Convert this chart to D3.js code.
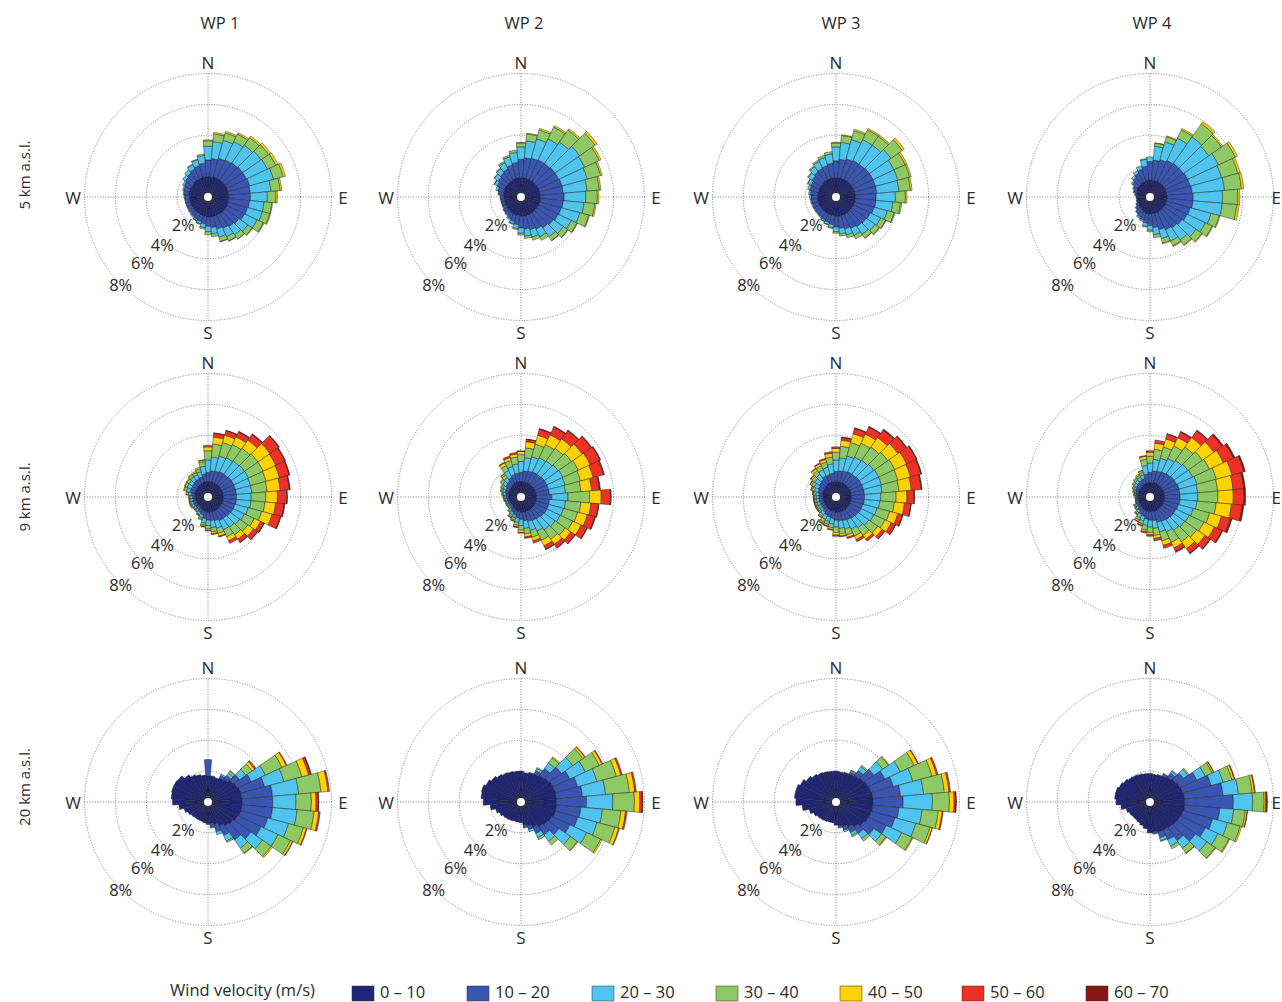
<!DOCTYPE html>
<html>
<head>
<meta charset="utf-8">
<script src="https://cdn.jsdelivr.net/npm/d3@7"></script>
<style>
  body { margin: 0; background: #fff; }
  svg { display: block; }
  text { font-family: "Open Sans", "Noto Sans", sans-serif; fill: #2b2b2b; }
</style>
</head>
<body>
<svg id="chart" width="1282" height="1002"></svg>
<script>
// Wind speed classes (m/s) and their colours
const speedClasses = ["0 – 10", "10 – 20", "20 – 30", "30 – 40", "40 – 50", "50 – 60", "60 – 70"];
const classColors = ["#1f2677", "#3a56b2", "#4ec4ee", "#8dc865", "#ffd200", "#ee3124", "#8a1515"];

const stations = ["WP 1", "WP 2", "WP 3", "WP 4"];
const levels = ["5 km a.s.l.", "9 km a.s.l.", "20 km a.s.l."];

// Direction bins (degrees clockwise from north), 10° wide
const directions = [0, 10, 20, 30, 40, 50, 60, 70, 80, 90, 100, 110, 120, 130, 140, 150, 160, 170,
                    180, 190, 200, 210, 220, 230, 240, 250, 260, 270, 280, 290, 300, 310, 320, 330, 340, 350];
const ringTicks = [2, 4, 6, 8];
const compass = [["N", 0], ["E", 90], ["S", 180], ["W", 270]];

// Frequency (%) per direction bin; each row lists the speed classes 0–10 … 60–70 m/s
const wp1_5km = [
  [1.3,1.1,0.9,0.35,0.05],[1.3,1.2,1.1,0.5,0.1],[1.35,1.25,1.2,0.5,0.1],[1.35,1.3,1.3,0.55,0.1],
  [1.35,1.35,1.4,0.6,0.12],[1.35,1.4,1.45,0.6,0.15],[1.35,1.4,1.5,0.6,0.15],[1.35,1.45,1.6,0.65,0.15],
  [1.35,1.4,1.35,0.6,0.1],[1.35,1.4,1.1,0.55,0.1],[1.35,1.35,0.95,0.5,0.05],[1.35,1.3,1.0,0.5,0.05],
  [1.35,1.25,0.9,0.45,0.05],[1.35,1.1,0.7,0.35,0.03],[1.35,1.0,0.65,0.33,0.02],[1.3,0.95,0.6,0.3,0.02],
  [1.3,0.85,0.55,0.3,0.02],[1.3,0.7,0.4,0.2],[1.3,0.6,0.35,0.2],[1.25,0.5,0.25,0.1],
  [1.25,0.4,0.15,0.05],[1.2,0.4,0.1,0.02],[1.2,0.35,0.08],[1.2,0.3,0.05],
  [1.2,0.28,0.03],[1.2,0.27,0.03],[1.2,0.28,0.03],[1.2,0.3,0.05],
  [1.25,0.32,0.05],[1.25,0.38,0.08],[1.25,0.45,0.12],[1.25,0.55,0.2],
  [1.3,0.6,0.25],[1.3,0.7,0.3,0.05],[1.3,0.8,0.4,0.05],[1.3,0.9,0.5,0.1]
];
const wp2_5km = [
  [1.25,1.2,0.8,0.25,0.03],[1.25,1.3,1.1,0.45,0.05],[1.25,1.35,1.3,0.6,0.1],[1.25,1.4,1.5,0.85,0.1],
  [1.25,1.4,1.7,0.95,0.1],[1.25,1.45,1.95,1.2,0.15],[1.25,1.45,1.85,1.05,0.12],[1.25,1.5,1.7,0.9,0.1],
  [1.25,1.5,1.55,0.8,0.1],[1.25,1.55,1.4,0.75,0.1],[1.25,1.5,1.35,0.7,0.08],[1.25,1.45,1.25,0.6,0.05],
  [1.25,1.4,0.95,0.4,0.03],[1.25,1.3,0.8,0.35,0.03],[1.25,1.2,0.7,0.3,0.02],[1.25,1.05,0.55,0.25],
  [1.25,0.95,0.5,0.2],[1.25,0.85,0.45,0.15],[1.25,0.75,0.35,0.12],[1.2,0.6,0.25,0.08],
  [1.2,0.45,0.15,0.05],[1.2,0.35,0.1],[1.15,0.3,0.05],[1.15,0.25,0.03],
  [1.1,0.22,0.03],[1.1,0.2,0.03],[1.1,0.2,0.03],[1.1,0.22,0.03],
  [1.15,0.3,0.05],[1.15,0.4,0.15],[1.2,0.5,0.2,0.02],[1.2,0.6,0.3,0.03],
  [1.2,0.7,0.35,0.05],[1.2,0.8,0.45,0.1],[1.25,0.9,0.55,0.1],[1.25,1.0,0.65,0.15]
];
const wp3_5km = [
  [1.25,1.1,0.9,0.25,0.03],[1.25,1.2,1.1,0.45,0.05],[1.25,1.3,1.3,0.6,0.1],[1.25,1.35,1.5,0.7,0.1],
  [1.25,1.35,1.5,0.7,0.1],[1.25,1.4,1.7,0.9,0.15],[1.25,1.4,1.5,0.8,0.12],[1.25,1.4,1.5,0.8,0.1],
  [1.25,1.4,1.45,0.75,0.1],[1.25,1.35,1.25,0.65,0.1],[1.25,1.35,1.1,0.5,0.07],[1.25,1.3,0.9,0.45,0.05],
  [1.25,1.2,0.75,0.35,0.03],[1.25,1.15,0.7,0.33,0.03],[1.25,1.1,0.6,0.3,0.02],[1.25,1.0,0.5,0.25],
  [1.25,0.9,0.4,0.2],[1.25,0.8,0.35,0.15],[1.25,0.7,0.3,0.1],[1.2,0.6,0.2,0.05],
  [1.2,0.5,0.15,0.03],[1.2,0.45,0.1,0.02],[1.2,0.4,0.07],[1.2,0.38,0.05],
  [1.2,0.38,0.05],[1.2,0.38,0.06],[1.2,0.4,0.07],[1.2,0.42,0.08],
  [1.2,0.48,0.1],[1.2,0.55,0.15],[1.2,0.6,0.22,0.03],[1.2,0.7,0.3,0.05],
  [1.25,0.75,0.4,0.07],[1.25,0.8,0.5,0.1],[1.25,0.85,0.55,0.15],[1.25,0.95,0.6,0.15]
];
const wp4_5km = [
  [1.1,1.2,0.3],[1.1,1.3,0.9,0.2,0.02],[1.1,1.4,1.2,0.35,0.05],[1.1,1.5,1.6,0.6,0.1],
  [1.1,1.55,2.1,1.05,0.15],[1.1,1.55,2.0,1.0,0.1],[1.1,1.6,2.2,1.2,0.15],[1.1,1.6,2.1,1.1,0.15],
  [1.1,1.65,2.1,1.1,0.15],[1.1,1.7,1.9,1.0,0.12],[1.1,1.7,1.9,0.95,0.15],[1.1,1.6,1.4,0.55,0.05],
  [1.1,1.55,1.3,0.5,0.05],[1.1,1.45,1.1,0.45,0.05],[1.1,1.35,0.95,0.4,0.05],[1.1,1.25,0.8,0.35,0.05],
  [1.1,1.1,0.6,0.3,0.05],[1.1,0.9,0.45,0.2],[1.1,0.75,0.3,0.1],[1.1,0.6,0.2,0.05],
  [1.05,0.5,0.1],[1.0,0.45,0.08],[0.95,0.35,0.05],[0.9,0.25,0.03],
  [0.85,0.15,0.02],[0.8,0.12],[0.8,0.1],[0.8,0.1],
  [0.85,0.15],[0.9,0.2,0.02],[0.95,0.25,0.05],[1.0,0.4,0.1],
  [1.0,0.55,0.15],[1.05,0.65,0.2],[1.05,0.8,0.25],[1.1,0.9,0.45,0.05]
];
const wp1_9km = [
  [1.0,0.6,0.8,0.6,0.25,0.1],[1.0,0.7,0.9,0.85,0.45,0.25,0.02],[1.0,0.75,1.0,0.9,0.5,0.3,0.03],[1.0,0.8,1.0,0.95,0.55,0.35,0.05],
  [1.0,0.8,1.05,1.0,0.65,0.45,0.05],[1.0,0.85,1.05,1.05,0.95,0.7,0.05],[1.0,0.85,1.05,1.05,0.9,0.65,0.05],[1.0,0.85,1.0,1.05,0.9,0.65,0.05],
  [1.0,0.85,1.0,1.0,0.85,0.6,0.05],[1.0,0.85,0.95,0.95,0.75,0.6,0.05],[1.0,0.85,0.95,0.9,0.7,0.55,0.05],[1.0,0.8,0.9,0.9,0.7,0.55,0.05],
  [1.0,0.8,0.8,0.7,0.45,0.25,0.02],[1.0,0.75,0.75,0.65,0.45,0.3,0.03],[1.0,0.7,0.7,0.6,0.35,0.25,0.02],[1.0,0.7,0.65,0.5,0.3,0.18],
  [1.0,0.6,0.5,0.35,0.18,0.07],[1.0,0.55,0.45,0.28,0.12,0.05],[1.0,0.5,0.35,0.22,0.1,0.03],[0.95,0.45,0.3,0.15,0.07,0.02],
  [0.9,0.3,0.2,0.1,0.05],[0.85,0.25,0.15,0.07,0.03],[0.8,0.22,0.12,0.06,0.02],[0.8,0.2,0.12,0.06,0.02],
  [0.8,0.22,0.15,0.08,0.03],[0.8,0.22,0.15,0.08,0.03],[0.8,0.2,0.15,0.08,0.02],[0.8,0.2,0.15,0.08,0.03],
  [0.85,0.25,0.2,0.1,0.05],[0.9,0.3,0.25,0.15,0.05],[0.9,0.32,0.27,0.15,0.06],[0.9,0.33,0.28,0.16,0.06],
  [0.95,0.35,0.3,0.17,0.07],[0.95,0.35,0.3,0.17,0.08],[0.95,0.4,0.35,0.2,0.1],[1.0,0.5,0.5,0.3,0.1,0.02]
];
const wp2_9km = [
  [1.0,0.6,0.7,0.45,0.2,0.05],[1.0,0.7,0.85,0.65,0.4,0.15,0.02],[1.0,0.75,0.95,0.85,0.6,0.4,0.05],[1.0,0.8,1.0,0.95,0.7,0.55,0.05],
  [1.0,0.8,1.05,1.0,0.75,0.65,0.05],[1.0,0.85,1.1,1.05,0.85,0.7,0.05],[1.0,0.85,1.15,1.1,0.85,0.7,0.05],[1.0,0.85,1.1,1.05,0.85,0.7,0.05],
  [1.0,0.85,1.05,1.0,0.7,0.5,0.07],[1.0,1.0,1.05,1.4,0.75,0.6,0.05],[1.0,0.85,1.05,1.0,0.65,0.5,0.02],[1.0,0.85,1.0,0.95,0.65,0.5,0.05],
  [1.0,0.85,0.95,0.9,0.6,0.42,0.03],[1.0,0.8,0.9,0.8,0.45,0.32,0.03],[1.0,0.75,0.85,0.75,0.4,0.28,0.02],[1.0,0.7,0.75,0.65,0.4,0.25,0.02],
  [1.0,0.65,0.6,0.45,0.25,0.15],[1.0,0.55,0.5,0.35,0.2,0.1],[1.0,0.45,0.4,0.3,0.15,0.05],[0.95,0.4,0.3,0.2,0.1,0.05],
  [0.9,0.3,0.2,0.15,0.07,0.03],[0.85,0.25,0.18,0.12,0.07,0.03],[0.8,0.2,0.12,0.08,0.05],[0.75,0.15,0.1,0.05,0.03],
  [0.75,0.15,0.1,0.05,0.03],[0.75,0.15,0.1,0.05,0.03],[0.75,0.17,0.12,0.06,0.03],[0.78,0.18,0.12,0.06,0.03],
  [0.8,0.2,0.15,0.08,0.04],[0.85,0.22,0.18,0.1,0.05],[0.85,0.25,0.2,0.12,0.06],[0.9,0.3,0.25,0.15,0.07],
  [0.9,0.35,0.3,0.2,0.1,0.02],[0.95,0.45,0.5,0.35,0.2,0.05],[1.0,0.5,0.55,0.4,0.2,0.1],[1.0,0.55,0.6,0.45,0.2,0.1]
];
const wp3_9km = [
  [1.0,0.65,0.75,0.5,0.25,0.1],[1.0,0.7,0.85,0.75,0.4,0.18,0.02],[1.0,0.75,1.0,0.9,0.6,0.35,0.05],[1.0,0.8,1.05,1.0,0.65,0.5,0.05],
  [1.0,0.8,1.1,1.05,0.75,0.6,0.07],[1.0,0.85,1.15,1.1,0.8,0.65,0.05],[1.0,0.85,1.2,1.15,0.85,0.7,0.05],[1.0,0.85,1.2,1.1,0.85,0.7,0.06],
  [1.0,0.85,1.15,1.1,0.8,0.65,0.05],[1.0,0.85,1.05,1.0,0.7,0.45,0.05],[1.0,0.85,1.0,0.95,0.65,0.42,0.03],[1.0,0.8,0.95,0.85,0.55,0.32,0.03],
  [1.0,0.8,0.9,0.8,0.45,0.3,0.02],[1.0,0.75,0.85,0.7,0.35,0.2,0.02],[1.0,0.7,0.75,0.6,0.3,0.15],[1.0,0.65,0.65,0.5,0.25,0.15],
  [1.0,0.6,0.55,0.4,0.17,0.08],[1.0,0.55,0.5,0.35,0.15,0.05],[1.0,0.5,0.45,0.35,0.17,0.08],[0.95,0.45,0.35,0.25,0.12,0.05],
  [0.95,0.4,0.3,0.2,0.1,0.05],[0.9,0.4,0.3,0.2,0.1,0.05],[0.9,0.3,0.2,0.15,0.08,0.02],[0.85,0.25,0.18,0.12,0.05,0.02],
  [0.85,0.25,0.18,0.12,0.06,0.02],[0.85,0.25,0.18,0.12,0.05,0.02],[0.85,0.25,0.18,0.12,0.05,0.02],[0.85,0.25,0.18,0.12,0.05,0.02],
  [0.85,0.28,0.2,0.14,0.06,0.02],[0.9,0.3,0.25,0.15,0.08,0.02],[0.9,0.35,0.3,0.2,0.1,0.03],[0.95,0.38,0.35,0.22,0.1,0.03],
  [0.95,0.45,0.4,0.3,0.15,0.05],[1.0,0.5,0.45,0.3,0.15,0.05],[1.0,0.5,0.5,0.35,0.18,0.07],[1.0,0.55,0.6,0.45,0.25,0.1]
];
const wp4_9km = [
  [0.95,0.65,0.6,0.45,0.25,0.1],[0.95,0.75,0.75,0.65,0.4,0.2],[0.95,0.8,0.85,0.75,0.55,0.33,0.02],[0.95,0.85,0.95,0.9,0.6,0.4,0.05],
  [0.95,0.9,1.05,1.05,0.75,0.55,0.05],[0.95,0.95,1.1,1.15,0.9,0.65,0.1],[0.95,0.95,1.15,1.2,1.0,0.72,0.1],[0.95,1.0,1.2,1.3,1.05,0.8,0.1],
  [0.95,1.0,1.15,1.3,1.0,0.7,0.1],[0.95,1.0,1.15,1.3,1.0,0.7,0.1],[0.95,1.0,1.1,1.25,1.0,0.7,0.1],[0.95,0.95,1.0,1.1,0.8,0.6,0.1],
  [0.95,0.9,0.95,1.05,0.75,0.55,0.05],[0.95,0.9,0.9,0.95,0.65,0.4,0.05],[0.95,0.85,0.85,0.9,0.55,0.35,0.05],[0.95,0.8,0.75,0.75,0.4,0.25,0.05],
  [0.95,0.75,0.65,0.6,0.3,0.2],[0.95,0.6,0.5,0.45,0.2,0.15],[0.95,0.55,0.45,0.35,0.15,0.1],[0.95,0.5,0.4,0.3,0.12,0.08],
  [0.9,0.4,0.3,0.2,0.1,0.05],[0.9,0.35,0.25,0.15,0.1,0.05],[0.85,0.25,0.15,0.1,0.05,0.02],[0.8,0.2,0.12,0.08,0.03],
  [0.8,0.18,0.1,0.07,0.03],[0.75,0.12,0.07,0.04,0.02],[0.75,0.1,0.06,0.04,0.02],[0.75,0.1,0.06,0.04,0.02],
  [0.78,0.14,0.08,0.05,0.02],[0.8,0.18,0.1,0.07,0.03],[0.82,0.22,0.13,0.08,0.04],[0.85,0.25,0.17,0.1,0.05],
  [0.85,0.3,0.2,0.13,0.07],[0.88,0.32,0.22,0.15,0.07],[0.9,0.35,0.25,0.18,0.1,0.02],[0.95,0.55,0.55,0.4,0.2,0.05]
];
const wp1_20km = [
  [1.7,1.05],[1.65,0.05],[1.6,0.05],[1.7,0.2,0.1],
  [1.8,0.3,0.2,0.15,0.05],[2.0,0.5,0.5,0.5,0.2,0.1],[2.1,1.0,1.0,1.2,0.3,0.05],[2.2,1.6,1.3,1.2,0.45,0.15,0.03],
  [2.2,2.0,1.7,1.45,0.45,0.1],[2.2,2.0,1.5,1.0,0.3,0.15,0.03],[2.2,2.0,1.6,1.1,0.3,0.1],[2.2,1.8,1.4,1.0,0.2,0.05],
  [2.1,1.7,1.2,0.9,0.15,0.03],[2.0,1.4,0.9,0.7,0.1],[1.9,1.1,0.65,0.4,0.05],[1.7,0.7,0.4,0.1],
  [1.5,0.5,0.2],[1.4,0.25,0.05],[1.4,0.05],[1.35],
  [1.3],[1.3],[1.3],[1.35],
  [1.45],[1.6],[1.9],[2.3],
  [2.4],[2.45],[2.45],[2.4],
  [2.15],[1.95],[1.85],[1.75]
];
const wp2_20km = [
  [2.0],[1.9],[1.95,0.05],[2.0,0.25,0.15,0.07],
  [2.1,0.55,0.45,0.4,0.07],[2.2,1.0,0.9,0.8,0.15,0.03],[2.3,1.2,1.1,1.0,0.2,0.05],[2.3,1.5,1.3,1.3,0.3,0.1],
  [2.3,1.7,1.5,1.55,0.35,0.1],[2.3,1.95,1.7,1.4,0.35,0.15,0.05],[2.3,1.6,1.4,1.2,0.3,0.1],[2.3,1.5,1.3,1.2,0.25,0.05],
  [2.2,1.3,1.2,1.0,0.1],[2.1,0.9,0.9,0.55,0.05],[2.0,0.6,0.5,0.3],[1.8,0.45,0.3,0.15],
  [1.6,0.25,0.15],[1.5,0.15,0.05],[1.35],[1.3],
  [1.3],[1.35],[1.4],[1.45],
  [1.55],[1.7],[2.0],[2.45],
  [2.6],[2.65],[2.5],[2.35],
  [2.2],[2.1],[2.05],[2.0]
];
const wp3_20km = [
  [2.0],[1.95],[1.95,0.05],[2.0,0.15,0.1,0.05],
  [2.1,0.4,0.3,0.1],[2.2,0.8,0.7,0.45,0.05],[2.3,1.2,1.1,1.0,0.25,0.05],[2.35,1.5,1.3,1.3,0.3,0.1],
  [2.4,1.8,1.5,1.35,0.3,0.1],[2.4,1.95,1.9,1.1,0.3,0.12,0.03],[2.4,1.7,1.5,1.05,0.25,0.07],[2.35,1.6,1.4,0.95,0.15,0.02],
  [2.3,1.3,1.1,0.75,0.05],[2.2,0.8,0.6,0.35,0.05],[2.0,0.5,0.4,0.2],[1.8,0.4,0.2,0.1],
  [1.65,0.25,0.1],[1.55,0.15],[1.5],[1.35],
  [1.35],[1.4],[1.45],[1.5],
  [1.6],[1.8],[2.2],[2.6],
  [2.7],[2.7],[2.55],[2.35],
  [2.2],[2.1],[2.05],[2.0]
];
const wp4_20km = [
  [1.85],[1.8],[1.8,0.05],[1.85,0.15,0.05],
  [1.95,0.35,0.15,0.05],[2.05,0.6,0.35,0.1],[2.15,1.2,0.6,0.5,0.1,0.02],[2.2,1.9,0.8,0.6,0.15,0.05],
  [2.25,2.5,1.0,0.9,0.15,0.05],[2.25,3.15,1.25,0.75,0.1,0.08,0.02],[2.25,2.3,0.9,0.75,0.12,0.03],[2.2,2.0,1.0,0.85,0.1],
  [2.15,1.8,0.9,0.8,0.05],[2.1,1.5,0.9,0.65,0.05],[2.05,1.0,0.6,0.4,0.02],[2.0,0.7,0.45,0.2],
  [2.0,0.4,0.2,0.05],[1.95,0.15],[2.0],[1.75],
  [1.6],[1.5],[1.45],[1.45],
  [1.5],[1.6],[1.9],[2.2],
  [2.3],[2.3],[2.2],[2.1],
  [2.0],[1.95],[1.9],[1.85]
];

const panels = [
  [wp1_5km, wp2_5km, wp3_5km, wp4_5km],
  [wp1_9km, wp2_9km, wp3_9km, wp4_9km],
  [wp1_20km, wp2_20km, wp3_20km, wp4_20km]
];

// Layout
const W = 1282;
const colX = [208, 521, 836, 1150];
const rowY = [197, 497, 802];
const titleX = [220, 524, 841, 1152];
const rowLabelY = [175, 497, 787];

const svg = d3.select("#chart");
const r = d3.scaleLinear().domain([0, 8]).range([0, 123.5]);
const R = r(8);
const toRad = d => d * Math.PI / 180;
const arc = d3.arc();
const binHalf = 5;
const labelR = 135;

// Column titles
svg.selectAll("text.title").data(stations).join("text")
  .attr("class", "title")
  .attr("x", (d, i) => titleX[i]).attr("y", 22)
  .attr("text-anchor", "middle").attr("dominant-baseline", "central")
  .style("font-size", "16.5px")
  .text(d => d);

// Row labels (rotated)
svg.selectAll("text.level").data(levels).join("text")
  .attr("class", "level")
  .attr("transform", (d, i) => `translate(24,${rowLabelY[i]}) rotate(-90)`)
  .attr("text-anchor", "middle").attr("dominant-baseline", "central")
  .style("font-size", "15px")
  .text(d => d);

panels.forEach((row, ri) => {
  row.forEach((data, ci) => {
    const cx = colX[ci], cy = rowY[ri];
    const g = svg.append("g").attr("transform", `translate(${cx},${cy})`);

    // dotted grid: rings and cross
    g.selectAll("circle.ring").data(ringTicks).join("circle")
      .attr("r", d => r(d))
      .attr("fill", "none").attr("stroke", "#5e5e5e")
      .attr("stroke-width", 0.8).attr("stroke-dasharray", "1,1.6");
    g.append("line").attr("x1", -R).attr("x2", R).attr("y1", 0).attr("y2", 0)
      .attr("stroke", "#5e5e5e").attr("stroke-width", 0.8).attr("stroke-dasharray", "1,1.6");
    g.append("line").attr("y1", -R).attr("y2", R).attr("x1", 0).attr("x2", 0)
      .attr("stroke", "#5e5e5e").attr("stroke-width", 0.8).attr("stroke-dasharray", "1,1.6");

    // stacked petals
    const segs = [];
    data.forEach((vals, di) => {
      let acc = 0;
      speedClasses.forEach((c, k) => {
        const v = vals[k] || 0;
        if (v > 0) {
          segs.push({ dir: directions[di], k, inner: acc, outer: acc + v });
          acc += v;
        }
      });
    });
    g.selectAll("path.seg").data(segs).join("path")
      .attr("class", "seg")
      .attr("d", d => arc({
        innerRadius: r(d.inner), outerRadius: r(d.outer),
        startAngle: toRad(d.dir - binHalf), endAngle: toRad(d.dir + binHalf)
      }))
      .attr("fill", d => classColors[d.k])
      .attr("stroke", "#1e1e1e").attr("stroke-width", 0.45);

    g.append("circle").attr("r", 4).attr("fill", "#fff");

    // compass letters; the east letter is kept inside the page edge
    g.selectAll("text.cmp").data(compass).join("text")
      .attr("class", "cmp")
      .attr("x", d => {
        const x = Math.sin(toRad(d[1])) * labelR;
        return (d[0] === "E" && cx + x + 6 > W) ? W - cx - 1 : x;
      })
      .attr("y", d => -Math.cos(toRad(d[1])) * labelR)
      .attr("text-anchor", d => (d[0] === "E" && cx + labelR + 6 > W) ? "end" : "middle")
      .attr("dominant-baseline", "central")
      .style("font-size", "17px")
      .text(d => d[0]);

    // ring labels along the south-west
    g.selectAll("text.pct").data(ringTicks).join("text")
      .attr("class", "pct")
      .attr("x", d => -r(d) * 0.707 - (d === 2 ? 3 : d === 4 ? 2 : 0))
      .attr("y", d => r(d) * 0.707 + (d === 2 ? 6 : d === 4 ? 4 : 0))
      .attr("text-anchor", "middle").attr("dominant-baseline", "central")
      .style("font-size", "16.5px")
      .text(d => d + "%");
  });
});

// Legend along the bottom edge
const legendX = [352, 467, 592, 716, 840, 962, 1086];
svg.append("text").attr("x", 170).attr("y", 989)
  .attr("dominant-baseline", "central").style("font-size", "16.5px")
  .text("Wind velocity (m/s)");
const lg = svg.selectAll("g.leg").data(speedClasses).join("g")
  .attr("class", "leg")
  .attr("transform", (d, i) => `translate(${legendX[i]},0)`);
lg.append("rect").attr("x", 0).attr("y", 986).attr("width", 22).attr("height", 15)
  .attr("fill", (d, i) => classColors[i]).attr("stroke", "#333").attr("stroke-width", 0.5);
lg.append("text").attr("x", 28).attr("y", 991)
  .attr("dominant-baseline", "central").style("font-size", "16.5px")
  .text(d => d);
</script>
</body>
</html>
